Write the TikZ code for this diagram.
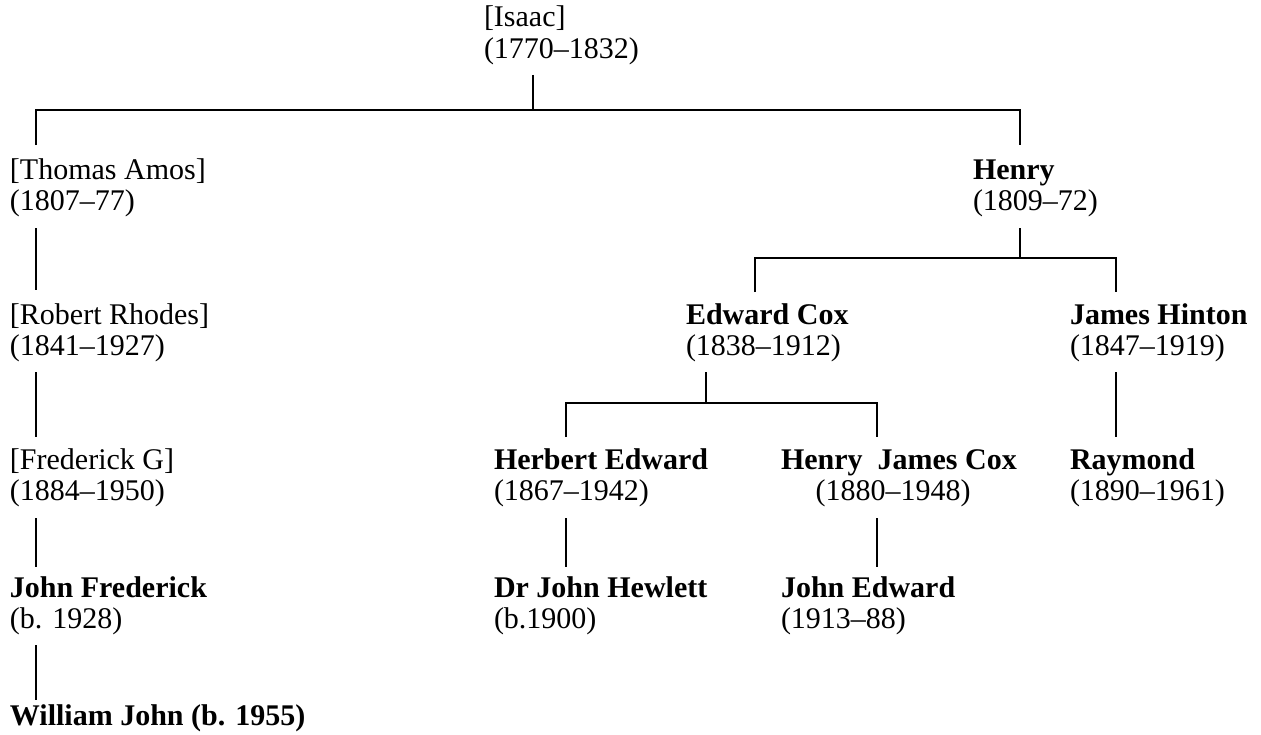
\documentclass[tikz,border=0pt]{standalone}
\usepackage{fontspec}
\setmainfont{Liberation Serif}
\newcommand{\twoline}[2]{\begin{tabular}[t]{@{}l@{}}#1\\#2\end{tabular}}
\tikzset{
  person/.style={anchor=base west, inner sep=0pt, outer sep=0pt, font=\fontsize{22.5}{23.5}\selectfont},
  link/.style={line width=1.5pt, black},
}
\begin{document}
\begin{tikzpicture}[x=0.75pt,y=-0.75pt]
\useasboundingbox (0,0) rectangle (1261,735);
% persons
\node[person] (isaac)   at (484,27)  {\twoline{[Isaac]}{(1770--1832)}};
\node[person] (thomas)  at (10,179)  {\twoline{[Thomas Amos]}{(1807--77)}};
\node[person] (henry)   at (973,179) {\twoline{\textbf{Henry}}{(1809--72)}};
\node[person] (robert)  at (10,324)  {\twoline{[Robert Rhodes]}{(1841--1927)}};
\node[person] (edward)  at (686,324) {\twoline{\textbf{Edward Cox}}{(1838--1912)}};
\node[person] (james)   at (1070,324){\twoline{\textbf{James Hinton}}{(1847--1919)}};
\node[person] (fred)    at (10,469)  {\twoline{[Frederick G]}{(1884--1950)}};
\node[person] (herbert) at (494,469) {\twoline{\textbf{Herbert Edward}}{(1867--1942)}};
\node[person] (hjc)     at (781,469) {\twoline{\textbf{Henry\ \ James Cox}}{\hspace{26pt}(1880--1948)}};
\node[person] (raymond) at (1070,469){\twoline{\textbf{Raymond}}{(1890--1961)}};
\node[person] (johnf)   at (10,597)  {\twoline{\textbf{John Frederick}}{(b. 1928)}};
\node[person] (drjohn)  at (494,597) {\twoline{\textbf{Dr John Hewlett}}{(b.1900)}};
\node[person] (johne)   at (781,597) {\twoline{\textbf{John Edward}}{(1913--88)}};
\node[person] (william) at (10,725)  {\textbf{William John (b. 1955)}};
% connector points
\coordinate (isaac-s) at (533,75);
\coordinate (isaac-j) at (533,110);
\coordinate (thomas-n) at (36,145);
\coordinate (henry-n) at (1020,145);
\coordinate (thomas-s) at (36,228);
\coordinate (robert-n) at (36,290);
\coordinate (robert-s) at (36,372);
\coordinate (fred-n) at (36,437);
\coordinate (fred-s) at (36,518);
\coordinate (johnf-n) at (36,567);
\coordinate (johnf-s) at (36,645);
\coordinate (william-n) at (36,700);
\coordinate (henry-s) at (1020,228);
\coordinate (henry-j) at (1020,258);
\coordinate (edward-n) at (755,292);
\coordinate (james-n) at (1116,292);
\coordinate (edward-s) at (706,372);
\coordinate (edward-j) at (706,403);
\coordinate (herbert-n) at (566,437);
\coordinate (hjc-n) at (877,437);
\coordinate (james-s) at (1116,372);
\coordinate (raymond-n) at (1116,437);
\coordinate (herbert-s) at (566,518);
\coordinate (drjohn-n) at (566,567);
\coordinate (hjc-s) at (877,518);
\coordinate (johne-n) at (877,567);
% connectors
\draw[link] (isaac-s) -- (isaac-j);
\draw[link] (thomas-n) |- (isaac-j) -| (henry-n);
\draw[link] (thomas-s) -- (robert-n);
\draw[link] (robert-s) -- (fred-n);
\draw[link] (fred-s) -- (johnf-n);
\draw[link] (johnf-s) -- (william-n);
\draw[link] (henry-s) -- (henry-j);
\draw[link] (edward-n) |- (henry-j) -| (james-n);
\draw[link] (edward-s) -- (edward-j);
\draw[link] (herbert-n) |- (edward-j) -| (hjc-n);
\draw[link] (james-s) -- (raymond-n);
\draw[link] (herbert-s) -- (drjohn-n);
\draw[link] (hjc-s) -- (johne-n);
\end{tikzpicture}
\end{document}
